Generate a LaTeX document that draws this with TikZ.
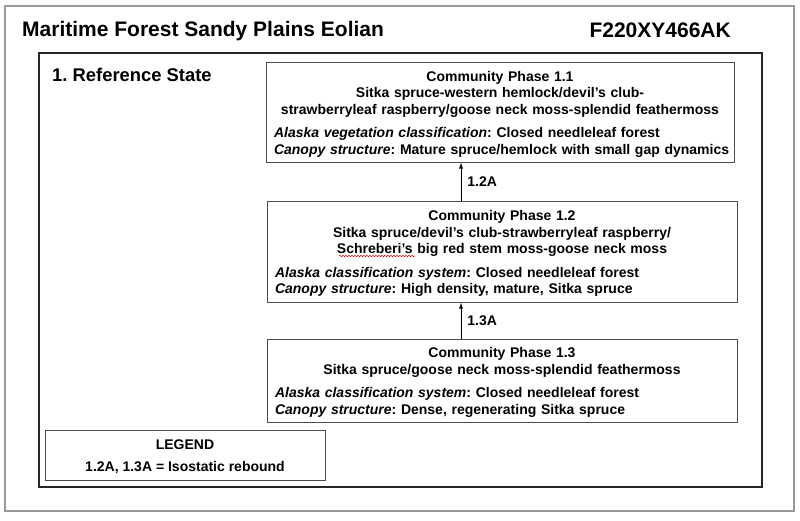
\documentclass[tikz,border=0pt]{standalone}
\usepackage{fontspec}
\setmainfont{Liberation Sans}
\usetikzlibrary{arrows.meta,decorations.pathmorphing}
\tikzset{
  phase/.style={draw=black!70, line width=1pt, rectangle, inner xsep=8pt, inner ysep=0pt,
    text width=#1, align=center, font=\bfseries\fontsize{14}{16.5}\selectfont},
  legendbox/.style={draw=black!70, line width=1pt, rectangle, minimum width=280pt, minimum height=50pt,
    inner sep=0pt, align=center, font=\bfseries\fontsize{14}{16.5}\selectfont},
  heading/.style={inner sep=0pt, font=\bfseries\fontsize{21}{25}\selectfont},
  statelbl/.style={inner sep=0pt, font=\bfseries\fontsize{18.4}{22}\selectfont},
  arr/.style={-{Latex[length=6pt,width=4pt]}, line width=0.8pt, black},
  lbl/.style={inner sep=0pt, font=\bfseries\fontsize{14}{17}\selectfont},
  outerframe/.style={draw=black!40, line width=1.2pt},
  innerframe/.style={draw=black!85, line width=2pt},
  squiggle/.style={draw=red!80!black, line width=0.5pt, decorate, decoration={snake, amplitude=0.7pt, segment length=3pt}}
}
\newcommand{\myleftrow}[1]{\makebox[\linewidth][l]{#1}}
\newcommand{\mytopstrut}{\rule{0pt}{14.2pt}}
\frenchspacing
\begin{document}
\begin{tikzpicture}[x=1pt,y=-1pt]
\useasboundingbox (0,0) rectangle (800,520);
\fill[white] (0,0) rectangle (800,520);
\draw[outerframe] (5,6) rectangle (794,511);
\draw[innerframe] (39,53) rectangle (762,487);

\node[heading, anchor=base west] (title) at (22,36) {Maritime Forest Sandy Plains Eolian};
\node[heading, anchor=base east] (code) at (731,37) {F220XY466AK};
\node[statelbl, anchor=base west] (state) at (52,81) {1. Reference State};

\node[phase=452pt, minimum height=100pt] (p11) at (500,112) {\mytopstrut Community Phase 1.1\\
Sitka spruce-western hemlock/devil’s club-\\
strawberryleaf raspberry/goose neck moss-splendid feathermoss\\[7pt]
\myleftrow{\textit{Alaska vegetation classification}: Closed needleleaf forest}\\
\myleftrow{\textit{Canopy structure}: Mature spruce/hemlock with small gap dynamics}};

\node[phase=454pt, minimum height=101pt] (p12) at (502,251.5) {\mytopstrut Community Phase 1.2\\
Sitka spruce/devil’s club-strawberryleaf raspberry/\\
Schreberi’s big red stem moss-goose neck moss\\[7pt]
\myleftrow{\textit{Alaska classification system}: Closed needleleaf forest}\\
\myleftrow{\textit{Canopy structure}: High density, mature, Sitka spruce}};

\node[phase=454pt, minimum height=83pt] (p13) at (502,380.5) {\mytopstrut Community Phase 1.3\\
Sitka spruce/goose neck moss-splendid feathermoss\\[7pt]
\myleftrow{\textit{Alaska classification system}: Closed needleleaf forest}\\
\myleftrow{\textit{Canopy structure}: Dense, regenerating Sitka spruce}};

\node[legendbox] (leg) at (185,455.5) {\rule{0pt}{13pt}LEGEND\\[5.5pt]1.2A, 1.3A = Isostatic rebound};

\coordinate (ax) at (461,0);
\draw[arr] (ax |- p12.north) -- node[lbl, right=6pt] (l12) {1.2A} (ax |- p11.south);
\draw[arr] (ax |- p13.north) -- node[lbl, right=6pt] (l13) {1.3A} (ax |- p12.south);

\coordinate (sq1) at (339,256);
\coordinate (sq2) at (415,256);
\draw[squiggle] (sq1) -- (sq2);
\end{tikzpicture}
\end{document}
